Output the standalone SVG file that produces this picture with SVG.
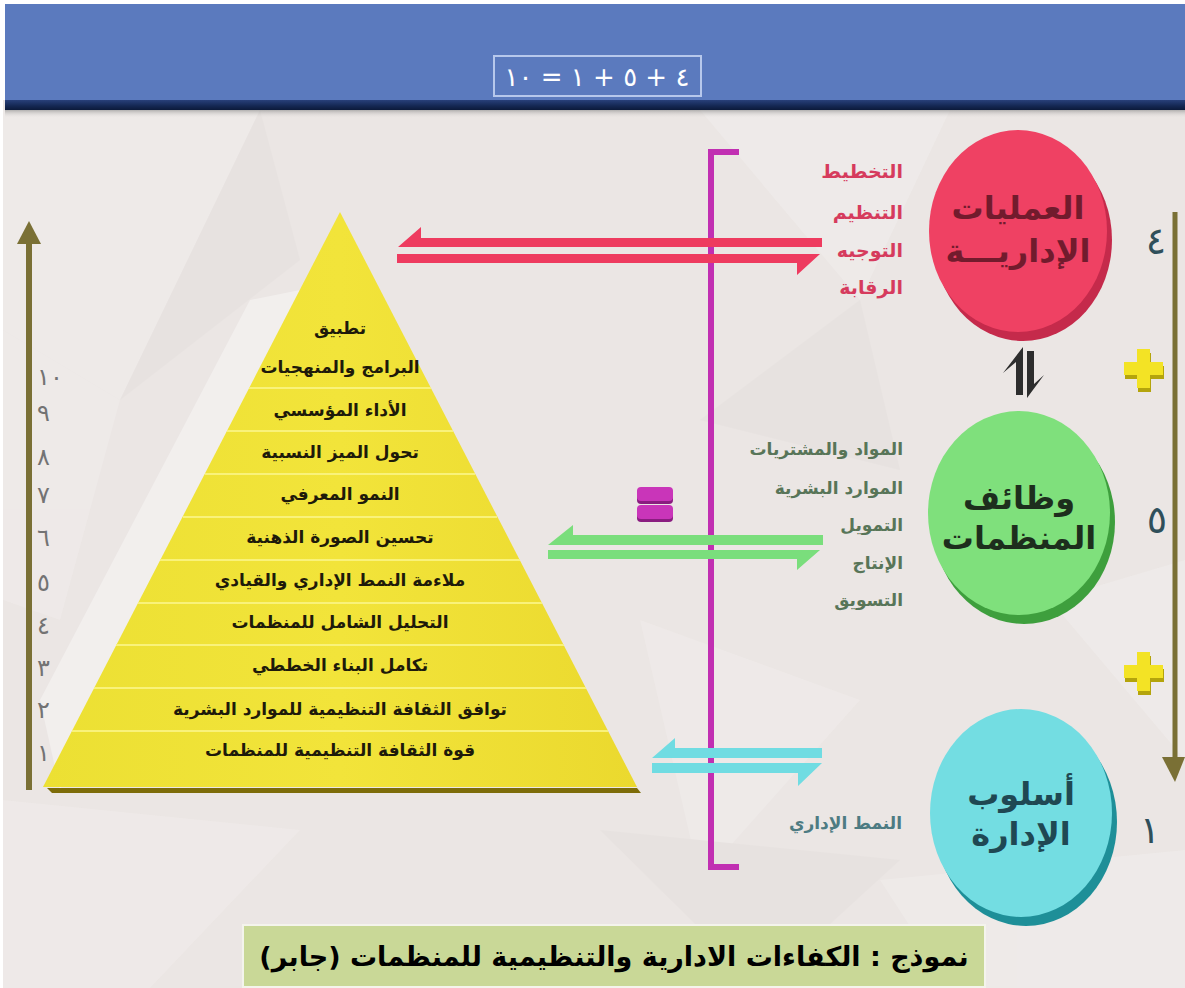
<svg xmlns="http://www.w3.org/2000/svg" width="1185" height="988" viewBox="0 0 1185 988">
<defs>
<style>
.ar{font-family:"DejaVu Sans",sans-serif}
.pyr{font-family:"DejaVu Sans",sans-serif;font-weight:bold;font-size:17px;fill:#1e1a0a;text-anchor:middle}
.band{stroke:#f9f27a;stroke-width:2}
.lnum{font-family:"DejaVu Sans",sans-serif;font-size:24px;fill:#737373}
.rnum{font-family:"DejaVu Sans",sans-serif;font-size:38px;fill:#2f4f5a;text-anchor:middle}
.red{font-family:"DejaVu Sans",sans-serif;font-size:19px;fill:#d63b5d;text-anchor:end;font-weight:bold}
.grn{font-family:"DejaVu Sans",sans-serif;font-size:17px;fill:#587558;text-anchor:end;font-weight:bold}
.big{font-family:"DejaVu Sans",sans-serif;font-size:32px;font-weight:bold;text-anchor:middle}
</style>
<linearGradient id="nav" x1="0" y1="0" x2="0" y2="1">
<stop offset="0" stop-color="#28407a"/><stop offset="0.6" stop-color="#142752"/><stop offset="1" stop-color="#0c1a3a"/>
</linearGradient>
<linearGradient id="shd" x1="0" y1="0" x2="0" y2="1">
<stop offset="0" stop-color="#8a8a8a" stop-opacity="0.6"/><stop offset="1" stop-color="#e9e4e2" stop-opacity="0"/>
</linearGradient>
<linearGradient id="pyrg" x1="0" y1="0" x2="1" y2="0">
<stop offset="0" stop-color="#ece033"/><stop offset="0.5" stop-color="#f2e43a"/><stop offset="1" stop-color="#ebd92e"/>
</linearGradient>
</defs>

<!-- background -->
<rect x="0" y="0" width="1185" height="988" fill="#ffffff"/>
<rect x="3" y="100" width="1182" height="888" fill="#ebe6e4"/>
<g id="texture" opacity="0.22">
<polygon points="3,110 260,110 120,400 3,330" fill="#fbfafa"/>
<polygon points="120,400 260,110 300,260" fill="#dcd7d5"/>
<polygon points="3,330 120,400 60,620 3,600" fill="#faf8f8"/>
<polygon points="700,110 950,110 860,300" fill="#fbfafa"/>
<polygon points="860,300 700,420 900,470" fill="#dcd7d5"/>
<polygon points="1050,600 1185,560 1185,760" fill="#fbfafa"/>
<polygon points="640,620 860,700 700,880" fill="#faf8f8"/>
<polygon points="3,800 300,830 150,988 3,988" fill="#faf8f8"/>
<polygon points="600,830 900,860 760,988" fill="#dcd7d5"/>
<polygon points="880,880 1185,850 1185,988 950,988" fill="#fbfafa"/>
</g>
<polygon points="60,790 300,290 250,300 40,700" fill="#ffffff" opacity="0.35"/>

<!-- header -->
<g id="header">
<rect x="5" y="4" width="1180" height="97" fill="#5b7abe"/>
<rect x="5" y="100" width="1180" height="10" fill="url(#nav)"/>
<rect x="5" y="110" width="1180" height="8" fill="url(#shd)"/>
<rect x="494" y="56" width="207" height="40" fill="none" stroke="#b7c8ec" stroke-width="2"/>
<text x="597" y="86" font-family="DejaVu Sans, sans-serif" font-size="26" fill="#ffffff" text-anchor="middle" direction="ltr" unicode-bidi="bidi-override" style="unicode-bidi:bidi-override;direction:ltr">١٠ = ١ + ٥ + ٤</text>
</g>

<!-- pyramid -->
<g id="pyramid">
<polygon points="340,212 43,787 637,787" fill="url(#pyrg)"/>
<polygon points="47,788 637,788 641,793 52,793" fill="#7d6c08"/>
<line class="band" x1="249" y1="388" x2="431" y2="388"/>
<line class="band" x1="227" y1="431" x2="453" y2="431"/>
<line class="band" x1="205" y1="474" x2="475" y2="474"/>
<line class="band" x1="183" y1="517" x2="497" y2="517"/>
<line class="band" x1="160" y1="560" x2="520" y2="560"/>
<line class="band" x1="138" y1="603" x2="542" y2="603"/>
<line class="band" x1="116" y1="645" x2="564" y2="645"/>
<line class="band" x1="94" y1="688" x2="586" y2="688"/>
<line class="band" x1="72" y1="731" x2="608" y2="731"/>
<text class="pyr" x="340" y="334" direction="rtl">تطبيق</text>
<text class="pyr" x="340" y="373" direction="rtl">البرامج والمنهجيات</text>
<text class="pyr" x="340" y="416" direction="rtl">الأداء المؤسسي</text>
<text class="pyr" x="340" y="458" direction="rtl">تحول الميز النسبية</text>
<text class="pyr" x="340" y="500" direction="rtl">النمو المعرفي</text>
<text class="pyr" x="340" y="543" direction="rtl">تحسين الصورة الذهنية</text>
<text class="pyr" x="340" y="586" direction="rtl">ملاءمة النمط الإداري والقيادي</text>
<text class="pyr" x="340" y="628" direction="rtl">التحليل الشامل للمنظمات</text>
<text class="pyr" x="340" y="671" direction="rtl">تكامل البناء الخططي</text>
<text class="pyr" x="340" y="715" direction="rtl">توافق الثقافة التنظيمية للموارد البشرية</text>
<text class="pyr" x="340" y="756" direction="rtl">قوة الثقافة التنظيمية للمنظمات</text>
</g>

<!-- left scale numbers -->
<g id="scale-numbers">
<text class="lnum" x="37" y="385">١٠</text>
<text class="lnum" x="37" y="421">٩</text>
<text class="lnum" x="37" y="465">٨</text>
<text class="lnum" x="37" y="503">٧</text>
<text class="lnum" x="37" y="546">٦</text>
<text class="lnum" x="37" y="591">٥</text>
<text class="lnum" x="37" y="634">٤</text>
<text class="lnum" x="37" y="676">٣</text>
<text class="lnum" x="37" y="718">٢</text>
<text class="lnum" x="37" y="761">١</text>
</g>

<!-- connectors -->
<g id="connectors">
<line x1="29" y1="790" x2="29" y2="236" stroke="#7a7035" stroke-width="6"/>
<polygon points="29,221 17,244 41,244" fill="#7a7035"/>
<line x1="1175" y1="212" x2="1175" y2="762" stroke="#7a7035" stroke-width="5"/>
<polygon points="1175,782 1162,757 1185,757" fill="#7a7035"/>
<polyline points="739,152 711,152 711,867 739,867" fill="none" stroke="#c12fb2" stroke-width="6"/>
<polygon points="398,247 421,227 421,238 822,238 822,247" fill="#ee3b5f"/>
<polygon points="397,254 820,254 797,275 797,263 397,263" fill="#ee3b5f"/>
<polygon points="548,545 573,525 573,535 823,535 823,545" fill="#7ade7c"/>
<polygon points="548,550 820,550 797,570 797,559 548,559" fill="#7ade7c"/>
<polygon points="652,758 675,738 675,748 822,748 822,758" fill="#70dce2"/>
<polygon points="652,763 822,763 798,786 798,773 652,773" fill="#70dce2"/>
<polygon points="1023,347 1023,395 1016,395 1016,362 1003,373" fill="#2d2d2d"/>
<polygon points="1027,398 1027,351 1034,351 1034,384 1044,375" fill="#2d2d2d"/>
</g>

<!-- equals sign -->
<g id="equals">
<rect x="637" y="489" width="36" height="15" rx="4" fill="#8a1d80"/>
<rect x="637" y="487" width="36" height="14" rx="4" fill="#c935b9"/>
<rect x="637" y="507" width="36" height="15" rx="4" fill="#8a1d80"/>
<rect x="637" y="505" width="36" height="14" rx="4" fill="#c935b9"/>
</g>

<!-- plus signs -->
<g id="plus1">
<path d="M1138,353 h13 v13 h13 v13 h-13 v13 h-13 v-13 h-13 v-13 h13 z" fill="#b4a40c"/>
<path d="M1137,349 h13 v13 h13 v13 h-13 v13 h-13 v-13 h-13 v-13 h13 z" fill="#f3e325"/>
</g>
<g id="plus2">
<path d="M1138,656 h13 v13 h13 v13 h-13 v13 h-13 v-13 h-13 v-13 h13 z" fill="#b4a40c"/>
<path d="M1137,652 h13 v13 h13 v13 h-13 v13 h-13 v-13 h-13 v-13 h13 z" fill="#f3e325"/>
</g>

<!-- node: administrative operations -->
<g id="node-operations">
<ellipse cx="1023" cy="240" rx="89" ry="101" fill="#c52a4b"/>
<ellipse cx="1018" cy="231" rx="89" ry="101" fill="#ef4163"/>
<text class="big" x="1018" y="219" fill="#721b2d" direction="rtl">العمليات</text>
<text class="big" x="1018" y="262" fill="#721b2d" direction="rtl" font-size="30">الإداريـــة</text>
<text class="red" x="903" y="178">التخطيط</text>
<text class="red" x="903" y="219">التنظيم</text>
<text class="red" x="903" y="257">التوجيه</text>
<text class="red" x="903" y="294">الرقابة</text>
<text class="rnum" x="1156" y="254">٤</text>
</g>

<!-- node: organization functions -->
<g id="node-functions">
<ellipse cx="1024" cy="522" rx="91" ry="102" fill="#3e9f3d"/>
<ellipse cx="1019" cy="513" rx="91" ry="102" fill="#7fe07c"/>
<text class="big" x="1019" y="509" fill="#1d2e1d" direction="rtl">وظائف</text>
<text class="big" x="1019" y="549" fill="#1d2e1d" direction="rtl">المنظمات</text>
<text class="grn" x="903" y="455">المواد والمشتريات</text>
<text class="grn" x="903" y="494">الموارد البشرية</text>
<text class="grn" x="903" y="531">التمويل</text>
<text class="grn" x="903" y="569">الإنتاج</text>
<text class="grn" x="903" y="606">التسويق</text>
<text class="rnum" x="1157" y="533">٥</text>
</g>

<!-- node: management style -->
<g id="node-style">
<ellipse cx="1026" cy="822" rx="91" ry="104" fill="#1e8f98"/>
<ellipse cx="1021" cy="813" rx="91" ry="104" fill="#73dde2"/>
<text class="big" x="1021" y="805" fill="#1f4853" direction="rtl">أسلوب</text>
<text class="big" x="1021" y="845" fill="#1f4853" direction="rtl">الإدارة</text>
<text x="902" y="829" font-family="DejaVu Sans, sans-serif" font-size="17" font-weight="bold" fill="#4d7b82" text-anchor="end">النمط الإداري</text>
<text class="rnum" x="1150" y="843">١</text>
</g>

<!-- caption -->
<g id="caption">
<rect x="243" y="925" width="742" height="62" fill="#c9d897" stroke="#f4f4ec" stroke-width="2"/>
<text x="614" y="966" font-family="DejaVu Sans, sans-serif" font-size="27" font-weight="bold" fill="#000000" text-anchor="middle" direction="rtl">نموذج : الكفاءات الادارية والتنظيمية للمنظمات (جابر)</text>
</g>
</svg>
